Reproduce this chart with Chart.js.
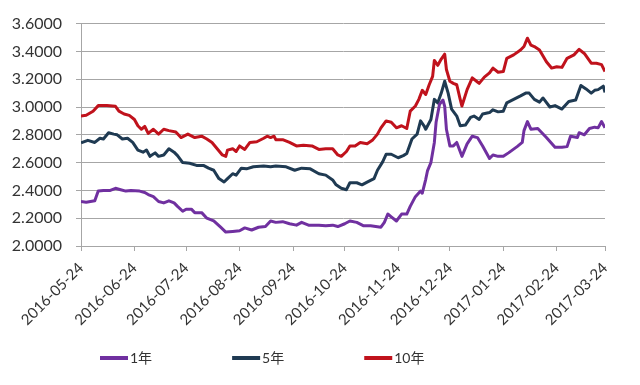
<!DOCTYPE html>
<html>
<head>
<meta charset="utf-8">
<script src="https://cdn.jsdelivr.net/npm/chart.js@4/dist/chart.umd.min.js"></script>
<style>
  html, body { margin: 0; padding: 0; background: #fff; }
  #wrap { width: 640px; height: 385px; }
</style>
</head>
<body>
<div id="wrap"><canvas id="chart" width="640" height="385"></canvas></div>
<script>
(function () {
    'use strict';

    // x axis: date ticks (days counted from the first one)
    const tickLabels = ['2016-05-24', '2016-06-24', '2016-07-24', '2016-08-24', '2016-09-24', '2016-10-24',
                        '2016-11-24', '2016-12-24', '2017-01-24', '2017-02-24', '2017-03-24'];
    const yTicks = [2.0, 2.2, 2.4, 2.6, 2.8, 3.0, 3.2, 3.4, 3.6];
    const seriesNames = ['1年', '5年', '10年'];

    // 1年
    const days1Y = [0, 3, 8, 10, 13, 17, 20, 23, 26, 29, 34, 37, 39, 42, 45, 48, 51, 54, 56, 59, 61, 64, 66, 70,
                    73, 77, 81, 84, 88, 92, 95, 99, 103, 107, 110, 113, 117, 121, 125, 128, 132, 138,
                    142, 146, 149, 153, 156, 160, 164, 168, 171, 174, 176, 178, 180, 183, 186, 189, 191, 194,
                    197, 198, 200, 201, 203, 205, 206, 208, 210, 211, 212, 214, 216, 218, 221, 224, 227, 230,
                    233, 237, 239, 242, 245, 248, 253, 256, 257, 259, 261, 265, 270, 275, 279, 282, 284, 288,
                    289, 292, 295, 298, 300, 302, 304];
    const yield1Y = [2.32, 2.315, 2.325, 2.395, 2.40, 2.40, 2.415, 2.405, 2.395, 2.40, 2.395, 2.385, 2.37, 2.355,
                     2.32, 2.31, 2.325, 2.31, 2.285, 2.25, 2.265, 2.265, 2.24, 2.24, 2.20, 2.18, 2.135, 2.10,
                     2.105, 2.11, 2.13, 2.115, 2.135, 2.14, 2.18, 2.17, 2.175, 2.16, 2.15, 2.17, 2.15, 2.15,
                     2.145, 2.15, 2.14, 2.16, 2.18, 2.17, 2.145, 2.145, 2.14, 2.135, 2.17, 2.23, 2.21, 2.18,
                     2.23, 2.23, 2.285, 2.355, 2.395, 2.38, 2.48, 2.54, 2.60, 2.745, 2.89, 3.02, 3.05, 3.005,
                     2.84, 2.72, 2.72, 2.745, 2.645, 2.735, 2.79, 2.78, 2.72, 2.63, 2.655, 2.645, 2.645, 2.67,
                     2.715, 2.745, 2.83, 2.895, 2.84, 2.845, 2.78, 2.71, 2.71, 2.715, 2.79, 2.78, 2.815, 2.80,
                     2.845, 2.855, 2.85, 2.895, 2.85];

    // 5年
    const days5Y = [0, 4, 8, 11, 13, 16, 19, 21, 24, 27, 30, 33, 36, 38, 40, 43, 45, 48, 51, 54, 56, 59, 63, 67,
                    71, 74, 77, 80, 83, 85, 88, 90, 93, 96, 100, 106, 110, 113, 119, 124, 128, 133, 138,
                    142, 146, 148, 151, 154, 156, 160, 163, 166, 170, 172, 175, 177, 180, 184, 187, 189, 192,
                    195, 197, 199, 200, 203, 205, 207, 209, 211, 213, 215, 218, 220, 223, 226, 228, 231, 233,
                    237, 239, 242, 245, 247, 251, 255, 258, 260, 263, 266, 268, 272, 275, 279, 283, 287, 290,
                    293, 296, 298, 300, 303, 304];
    const yield5Y = [2.742, 2.76, 2.745, 2.775, 2.77, 2.815, 2.805, 2.80, 2.77, 2.775, 2.745, 2.69, 2.675, 2.69,
                     2.645, 2.67, 2.645, 2.655, 2.70, 2.675, 2.65, 2.60, 2.595, 2.58, 2.58, 2.56, 2.545, 2.485,
                     2.46, 2.485, 2.52, 2.51, 2.56, 2.555, 2.57, 2.575, 2.57, 2.575, 2.57, 2.545, 2.56, 2.555, 2.52,
                     2.51, 2.475, 2.44, 2.415, 2.405, 2.455, 2.455, 2.44, 2.46, 2.485, 2.545, 2.605, 2.66, 2.66,
                     2.635, 2.65, 2.665, 2.77, 2.805, 2.90, 2.865, 2.84, 2.91, 3.055, 3.03, 3.10, 3.185, 3.10,
                     2.985, 2.935, 2.865, 2.87, 2.925, 2.935, 2.91, 2.95, 2.96, 2.98, 2.965, 2.97, 3.03, 3.055,
                     3.08, 3.10, 3.10, 3.055, 3.035, 3.065, 3.00, 3.01, 2.985, 3.04, 3.05, 3.155, 3.13, 3.10,
                     3.12, 3.125, 3.15, 3.105];

    // 10年
    const days10Y = [0, 3, 7, 10, 15, 20, 22, 25, 28, 31, 33, 35, 37, 39, 42, 45, 48, 51, 55, 58, 62, 66, 70, 73,
                     76, 79, 82, 84, 85, 88, 90, 92, 95, 98, 102, 106, 108, 110, 112, 113, 117, 121, 125, 129,
                     134, 138, 142, 146, 149, 151, 154, 156, 159, 162, 166, 169, 172, 174, 177, 180, 183, 186,
                     189, 191, 194, 196, 198, 200, 202, 204, 205, 207, 209, 211, 212, 214, 216, 218, 220, 221,
                     224, 227, 230, 231, 234, 237, 239, 242, 245, 247, 251, 255, 257, 259, 261, 263, 266, 270,
                     273, 276, 279, 282, 286, 289, 292, 296, 299, 302, 304];
    const yield10Y = [2.935, 2.94, 2.97, 3.01, 3.01, 3.005, 2.97, 2.95, 2.94, 2.91, 2.865, 2.84, 2.86, 2.81, 2.84,
                      2.805, 2.84, 2.83, 2.82, 2.78, 2.805, 2.78, 2.79, 2.77, 2.745, 2.70, 2.655, 2.645, 2.69,
                      2.70, 2.68, 2.72, 2.695, 2.745, 2.75, 2.775, 2.79, 2.78, 2.79, 2.765, 2.765, 2.745, 2.72,
                      2.725, 2.72, 2.695, 2.70, 2.70, 2.655, 2.645, 2.68, 2.72, 2.72, 2.745, 2.735, 2.76, 2.805,
                      2.85, 2.90, 2.89, 2.85, 2.865, 2.845, 2.97, 3.007, 3.055, 3.12, 3.09, 3.16, 3.22, 3.335,
                      3.30, 3.345, 3.38, 3.27, 3.185, 3.17, 3.16, 3.055, 3.007, 3.125, 3.21, 3.18, 3.17, 3.215,
                      3.245, 3.28, 3.25, 3.255, 3.35, 3.375, 3.41, 3.435, 3.495, 3.445, 3.435, 3.41, 3.325, 3.28,
                      3.29, 3.285, 3.35, 3.375, 3.415, 3.385, 3.315, 3.315, 3.305, 3.255];

    const PURPLE = '#7030A0';
    const NAVY   = '#1F3A52';
    const RED    = '#C0121C';
    const TEXT   = '#333333';
    const GRID   = '#A6A6A6';
    const FONT   = 'Lato, "Noto Sans CJK SC", sans-serif';

    const DAY = 864e5;
    const t0 = Date.parse(tickLabels[0]);
    const tickDays = tickLabels.map(s => Math.round((Date.parse(s) - t0) / DAY));

    function points(days, vals) {
        return days.map((d, i) => ({ x: d, y: vals[i] }));
    }

    function line(label, days, vals, color) {
        return {
            label: label,
            data: points(days, vals),
            borderColor: color,
            backgroundColor: color,
            borderWidth: 3,
            pointRadius: 0,
            tension: 0,
            borderJoinStyle: 'round',
            fill: false
        };
    }

    // legend under the chart, drawn by hand to sit where the original does
    const bottomLegend = {
        id: 'bottomLegend',
        afterDraw(chart) {
            const ctx = chart.ctx;
            const y = 358;
            let x = 100;
            ctx.save();
            ctx.font = '14px ' + FONT;
            ctx.textBaseline = 'middle';
            ctx.textAlign = 'left';
            chart.data.datasets.forEach(ds => {
                ctx.strokeStyle = ds.borderColor;
                ctx.lineWidth = 4;
                ctx.beginPath();
                ctx.moveTo(x, y);
                ctx.lineTo(x + 28, y);
                ctx.stroke();
                ctx.fillStyle = TEXT;
                ctx.fillText(ds.label, x + 30, y);
                x += 30 + ctx.measureText(ds.label).width + 80;
            });
            ctx.restore();
        }
    };

    new Chart(document.getElementById('chart'), {
        type: 'line',
        data: {
            datasets: [
                line(seriesNames[0], days1Y, yield1Y, PURPLE),
                line(seriesNames[1], days5Y, yield5Y, NAVY),
                line(seriesNames[2], days10Y, yield10Y, RED)
            ]
        },
        options: {
            responsive: false,
            animation: false,
            devicePixelRatio: 1,
            layout: { padding: { left: 0, right: 35, top: 20, bottom: 34 } },
            plugins: {
                legend: { display: false },
                tooltip: { enabled: false }
            },
            scales: {
                x: {
                    type: 'linear',
                    min: tickDays[0],
                    max: tickDays[tickDays.length - 1],
                    afterBuildTicks: s => { s.ticks = tickDays.map(v => ({ value: v })); },
                    afterFit: s => { s.height = 105; },
                    grid: { drawOnChartArea: false, drawTicks: true, tickLength: 5, color: GRID },
                    border: { color: GRID },
                    ticks: {
                        autoSkip: false,
                        minRotation: 45,
                        maxRotation: 45,
                        padding: 8,
                        color: TEXT,
                        font: { family: FONT, size: 15 },
                        callback: v => tickLabels[tickDays.indexOf(v)]
                    }
                },
                y: {
                    min: yTicks[0],
                    max: yTicks[yTicks.length - 1],
                    afterBuildTicks: s => { s.ticks = yTicks.map(v => ({ value: v })); },
                    afterFit: s => { s.width = 81; },
                    grid: { color: GRID, tickLength: 5 },
                    border: { color: GRID },
                    ticks: {
                        padding: 14,
                        color: TEXT,
                        font: { family: FONT, size: 16 },
                        callback: v => Number(v).toFixed(4)
                    }
                }
            }
        },
        plugins: [bottomLegend]
    });
})();
</script>
</body>
</html>
